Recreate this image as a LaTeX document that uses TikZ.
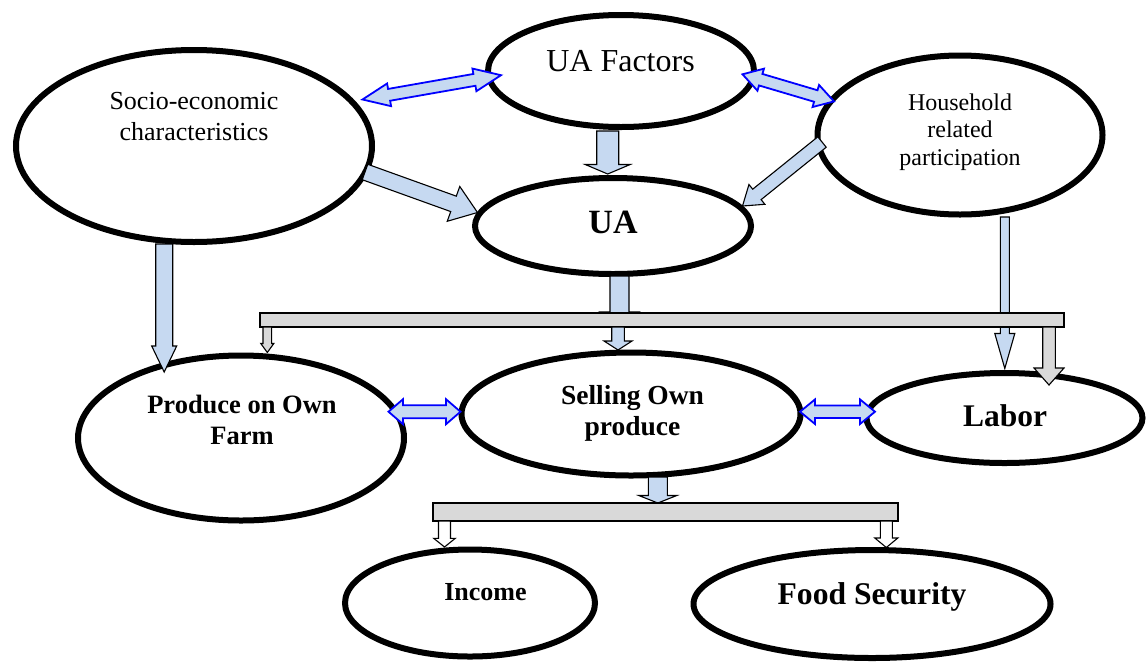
\documentclass[tikz,border=0pt]{standalone}
\usepackage{fontspec}
\setmainfont{Liberation Serif}
\usetikzlibrary{shapes.geometric,calc}
\definecolor{lblue}{HTML}{C6D9F1}
\definecolor{pblue}{HTML}{0000FF}
\definecolor{bgray}{HTML}{D9D9D9}
% #1 style, #2 from, #3 to, #4 shaft half width, #5 head half width, #6 head length
\newcommand{\blkarrow}[6]{%
  \coordinate (bxH) at ($(#3)!#6!(#2)$);
  \draw[#1] ($(#2)!#4!90:(#3)$) -- ($(bxH)!#4!90:(#3)$) -- ($(bxH)!#5!90:(#3)$) -- (#3)
    -- ($(bxH)!#5!-90:(#3)$) -- ($(bxH)!#4!-90:(#3)$) -- ($(#2)!#4!-90:(#3)$) -- cycle;
}
\newcommand{\dblarrow}[6]{%
  \coordinate (bxA) at ($(#2)!#6!(#3)$);
  \coordinate (bxB) at ($(#3)!#6!(#2)$);
  \draw[#1] (#2) -- ($(bxA)!#5!90:(#3)$) -- ($(bxA)!#4!90:(#3)$) -- ($(bxB)!#4!90:(#3)$)
    -- ($(bxB)!#5!90:(#3)$) -- (#3) -- ($(bxB)!#5!-90:(#3)$) -- ($(bxB)!#4!-90:(#3)$)
    -- ($(bxA)!#4!-90:(#3)$) -- ($(bxA)!#5!-90:(#3)$) -- cycle;
}
\begin{document}
\begin{tikzpicture}[x=1pt,y=-1pt,
  oval/.style={ellipse,draw,line width=6pt,fill=white,inner sep=0pt},
  txt/.style={anchor=base,inner sep=0pt},
  barbox/.style={draw,fill=bgray,line width=1.3pt,inner sep=0pt},
  blkblue/.style={draw=black,fill=lblue,line width=1.1pt},
  dblblue/.style={draw=pblue,fill=lblue,line width=1.8pt},
  blkgray/.style={draw=black,fill=bgray,line width=1.1pt},
  blkwhite/.style={draw=black,fill=white,line width=1.1pt}]
\useasboundingbox (0,0) rectangle (1147,662);

% ellipses
\node[oval,minimum width=356pt,minimum height=192pt] (soc) at (194,146) {};
\node[oval,minimum width=266pt,minimum height=112pt] (uaf) at (621,71) {};
\node[oval,minimum width=276pt,minimum height=96pt] (ua) at (613,226) {};
\node[oval,minimum width=285pt,minimum height=159pt] (hh) at (960,135) {};
\node[oval,minimum width=326pt,minimum height=165pt] (prod) at (241,438) {};
\node[oval,minimum width=339pt,minimum height=123pt] (sell) at (631,414) {};
\node[oval,minimum width=276pt,minimum height=90pt] (lab) at (1004.5,418) {};
\node[oval,minimum width=250pt,minimum height=107pt] (inc) at (470,603) {};
\node[oval,minimum width=357pt,minimum height=108pt] (food) at (872,604) {};

% texts
\node[txt,font=\fontsize{26}{31}\selectfont] (socT1) at (194,109) {Socio-economic};
\node[txt,font=\fontsize{26}{31}\selectfont] (socT2) at (194,140) {characteristics};
\node[txt,font=\fontsize{32}{38}\selectfont] (uafT) at (620.5,71) {UA Factors};
\node[txt,font=\fontsize{34}{40}\selectfont\bfseries] (uaT) at (613,233) {UA};
\node[txt,font=\fontsize{24}{28}\selectfont] (hhT1) at (960,110) {Household};
\node[txt,font=\fontsize{24}{28}\selectfont] (hhT2) at (960,137.5) {related};
\node[txt,font=\fontsize{24}{28}\selectfont] (hhT3) at (960,165) {participation};
\node[txt,font=\fontsize{26.5}{31}\selectfont\bfseries] (prodT1) at (242,413) {Produce on Own};
\node[txt,font=\fontsize{26.5}{31}\selectfont\bfseries] (prodT2) at (242,444) {Farm};
\node[txt,font=\fontsize{27.5}{31}\selectfont\bfseries] (sellT1) at (632.5,404) {Selling Own};
\node[txt,font=\fontsize{27.5}{31}\selectfont\bfseries] (sellT2) at (632.5,435) {produce};
\node[txt,font=\fontsize{31.5}{36}\selectfont\bfseries] (labT) at (1005,426) {Labor};
\node[txt,font=\fontsize{26}{31}\selectfont\bfseries] (incT) at (485.5,600) {Income};
\node[txt,font=\fontsize{31.6}{36}\selectfont\bfseries] (foodT) at (872,604) {Food Security};

% arrow end points
\coordinate (c1a) at (362.5,99.5);   \coordinate (c1b) at (501,75.2);
\coordinate (c2a) at (742.5,74.3);   \coordinate (c2b) at (834,101.4);
\coordinate (c3a) at (607.7,131);    \coordinate (c3b) at (607.7,174);
\coordinate (c4a) at (365,172);      \coordinate (c4b) at (477.5,212.5);
\coordinate (c5a) at (822,142);      \coordinate (c5b) at (742.5,206);
\coordinate (c6a) at (164.2,244);    \coordinate (c6b) at (164.2,372);
\coordinate (c7a) at (619.5,276);    \coordinate (c7b) at (619.5,322);
\coordinate (c8a) at (618,327);      \coordinate (c8b) at (618,350);
\coordinate (c9a) at (267.3,327);    \coordinate (c9b) at (267.3,352.5);
\coordinate (c10a) at (1004.8,217);  \coordinate (c10b) at (1004.8,368.5);
\coordinate (c11a) at (1049,327);    \coordinate (c11b) at (1049,385);
\coordinate (c12a) at (388.5,411.7); \coordinate (c12b) at (460.5,411.7);
\coordinate (c13a) at (800,411.7);   \coordinate (c13b) at (875,411.7);
\coordinate (c14a) at (657.8,477);   \coordinate (c14b) at (657.8,503);
\coordinate (c15a) at (444.5,521);   \coordinate (c15b) at (444.5,547);
\coordinate (c16a) at (886.3,521);   \coordinate (c16b) at (886.3,547.5);

% arrows between ellipses
\dblarrow{dblblue}{c1a}{c1b}{6pt}{11.5pt}{27pt}
\dblarrow{dblblue}{c2a}{c2b}{6pt}{11.5pt}{19pt}
\blkarrow{blkblue}{c3a}{c3b}{11pt}{22.5pt}{9.5pt}
\blkarrow{blkblue}{c4a}{c4b}{8.2pt}{18.5pt}{25.5pt}
\blkarrow{blkblue}{c5a}{c5b}{6.7pt}{12.7pt}{18.5pt}
\blkarrow{blkblue}{c6a}{c6b}{8.5pt}{12.5pt}{26pt}
\blkarrow{blkblue}{c7a}{c7b}{9.5pt}{19pt}{10pt}
\blkarrow{blkblue}{c10a}{c10b}{4.5pt}{10pt}{35pt}
\dblarrow{dblblue}{c12a}{c12b}{6.5pt}{12.5pt}{14.5pt}
\dblarrow{dblblue}{c13a}{c13b}{6.3pt}{12.3pt}{15pt}
\blkarrow{blkblue}{c14a}{c14b}{9.5pt}{19pt}{7.5pt}

% bars
\node[barbox,minimum width=804pt,minimum height=14pt] (bar1) at (662,320) {};
\node[barbox,minimum width=465pt,minimum height=18pt] (bar2) at (665.5,512) {};

% arrows from bars
\blkarrow{blkblue}{c8a}{c8b}{6.3pt}{14pt}{9pt}
\blkarrow{blkgray}{c9a}{c9b}{4.3pt}{6.5pt}{9pt}
\blkarrow{blkgray}{c11a}{c11b}{6.3pt}{15pt}{17pt}
\blkarrow{blkwhite}{c15a}{c15b}{6pt}{10.8pt}{8.7pt}
\blkarrow{blkwhite}{c16a}{c16b}{6pt}{11.5pt}{9.5pt}
\end{tikzpicture}
\end{document}
